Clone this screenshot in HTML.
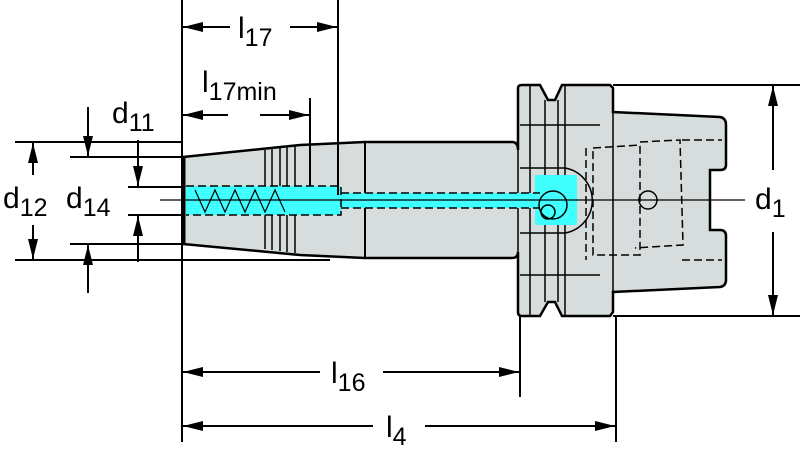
<!DOCTYPE html>
<html><head><style>html,body{margin:0;padding:0;background:#fff;}svg{display:block}</style></head>
<body>
<svg width="800" height="458" viewBox="0 0 800 458" xmlns="http://www.w3.org/2000/svg" font-family="Liberation Sans, sans-serif">
<defs>
<marker id="a" viewBox="0 0 20 10" refX="20" refY="5" markerWidth="20" markerHeight="10" markerUnits="userSpaceOnUse" orient="auto-start-reverse"><path d="M0,0 L20,5 L0,10 z" fill="#000"/></marker>
</defs>
<g stroke="#000" fill="none" stroke-width="2">
<!-- body -->
<path d="M183,157 L300,145 L365,142 L512,142 Q518,142 518,150 L518,88 Q518,85 522,85 L540,85 L548,100 L555,100 L562,85 L610,85 L613,88 L613,112 L720,117 Q726,118 726,125 L726,165 Q726,170 720,170 L710,170 L710,230 L720,230 Q726,230 726,236 L726,280 Q726,286 720,287 L613,292 L613,312 L610,316 L562,316 L555,302 L548,302 L540,316 L522,316 Q518,316 518,312 L518,252 Q518,258 512,258 L365,258 L300,255 L183,244 Z" fill="#d6dddc" stroke-width="2.5"/>
<line x1="365" y1="142" x2="365" y2="258"/>
<line x1="184" y1="157" x2="184" y2="244" stroke-width="3"/>
<g stroke-width="1.5">
<line x1="265" y1="150" x2="265" y2="249"/><line x1="272" y1="149" x2="272" y2="250"/>
<line x1="280" y1="148" x2="280" y2="251"/><line x1="287" y1="147" x2="287" y2="252"/>
<line x1="295" y1="146" x2="295" y2="253"/>
<line x1="530" y1="85" x2="530" y2="316"/><line x1="545" y1="100" x2="545" y2="302"/>
<line x1="558" y1="100" x2="558" y2="302"/><line x1="565" y1="85" x2="565" y2="316"/>
<line x1="518" y1="142" x2="518" y2="258"/>
<line x1="613" y1="112" x2="613" y2="292"/>
<line x1="520" y1="125" x2="600" y2="125"/><line x1="520" y1="275" x2="600" y2="275"/>
</g>
<!-- cyan -->
<rect x="186" y="186" width="155" height="29" fill="#40ffff" stroke="none"/>
<rect x="341" y="193" width="200" height="15" fill="#40ffff" stroke="none"/>
<rect x="535" y="175" width="42" height="50" fill="#40ffff" stroke="none"/>
<path d="M520,168 L565,168 A33,33 0 0 1 565,233 L520,233" stroke-width="1.5"/>
<circle cx="553" cy="205" r="14" stroke-width="1.5"/><circle cx="548" cy="212" r="7" stroke-width="1.5"/>
<g stroke-dasharray="8,4" stroke-width="1.5">
<path d="M186,186 L341,186 L341,215 L186,215"/>
<line x1="341" y1="193" x2="540" y2="193"/><line x1="341" y1="208" x2="540" y2="208"/>
<path d="M593,148 L640,145 L640,255 L593,255 Z"/>
<path d="M640,142 L680,140 L683,245 L635,248"/>
<path d="M682,140 L722,140 M682,260 L722,260"/>
<path d="M586,148 L586,260"/>
</g>
<path d="M195,190 L205,212 L215,190 L225,212 L235,190 L245,212 L255,190 L265,212 L275,190 L285,212" stroke-width="1.2"/>
<circle cx="648" cy="200" r="9" stroke-width="1.5"/>
<line x1="160" y1="200" x2="745" y2="200" stroke-width="1.2"/>
<!-- extension lines -->
<line x1="182" y1="0" x2="182" y2="442"/>
<line x1="338" y1="0" x2="338" y2="195"/>
<line x1="310" y1="98" x2="310" y2="186"/>
<line x1="15" y1="142" x2="183" y2="142"/>
<line x1="70" y1="157" x2="183" y2="157"/>
<line x1="128" y1="187" x2="183" y2="187"/>
<line x1="128" y1="215" x2="183" y2="215"/>
<line x1="70" y1="244" x2="183" y2="244"/>
<line x1="15" y1="260" x2="330" y2="260"/>
<line x1="613" y1="85" x2="800" y2="85"/>
<line x1="613" y1="316" x2="800" y2="316"/>
<line x1="520" y1="316" x2="520" y2="397"/>
<line x1="616" y1="316" x2="616" y2="442"/>
<!-- dimension arrows -->
<line x1="230" y1="27" x2="183" y2="27" marker-end="url(#a)"/>
<line x1="290" y1="27" x2="337" y2="27" marker-end="url(#a)"/>
<line x1="228" y1="115" x2="183" y2="115" marker-end="url(#a)"/>
<line x1="260" y1="115" x2="309" y2="115" marker-end="url(#a)"/>
<line x1="33" y1="175" x2="33" y2="143" marker-end="url(#a)"/>
<line x1="33" y1="225" x2="33" y2="259" marker-end="url(#a)"/>
<line x1="88" y1="107" x2="88" y2="156" marker-end="url(#a)"/>
<line x1="88" y1="293" x2="88" y2="245" marker-end="url(#a)"/>
<line x1="138" y1="140" x2="138" y2="186" marker-end="url(#a)"/>
<line x1="138" y1="262" x2="138" y2="216" marker-end="url(#a)"/>
<line x1="773" y1="170" x2="773" y2="86" marker-end="url(#a)"/>
<line x1="773" y1="232" x2="773" y2="315" marker-end="url(#a)"/>
<line x1="320" y1="372" x2="183" y2="372" marker-end="url(#a)"/>
<line x1="383" y1="372" x2="519" y2="372" marker-end="url(#a)"/>
<line x1="373" y1="426" x2="183" y2="426" marker-end="url(#a)"/>
<line x1="425" y1="426" x2="615" y2="426" marker-end="url(#a)"/>
</g>
<g fill="#000" font-size="30">
<text x="238" y="38">l<tspan font-size="25" dy="8">17</tspan></text>
<text x="202" y="92">l<tspan font-size="25" dy="8">17min</tspan></text>
<text x="112" y="123">d<tspan font-size="25" dy="8">11</tspan></text>
<text x="3" y="208">d<tspan font-size="25" dy="8">12</tspan></text>
<text x="66" y="208">d<tspan font-size="25" dy="8">14</tspan></text>
<text x="755" y="209">d<tspan font-size="25" dy="8">1</tspan></text>
<text x="331" y="383">l<tspan font-size="25" dy="8">16</tspan></text>
<text x="386" y="437">l<tspan font-size="25" dy="8">4</tspan></text>
</g>
</svg>
</body></html>
